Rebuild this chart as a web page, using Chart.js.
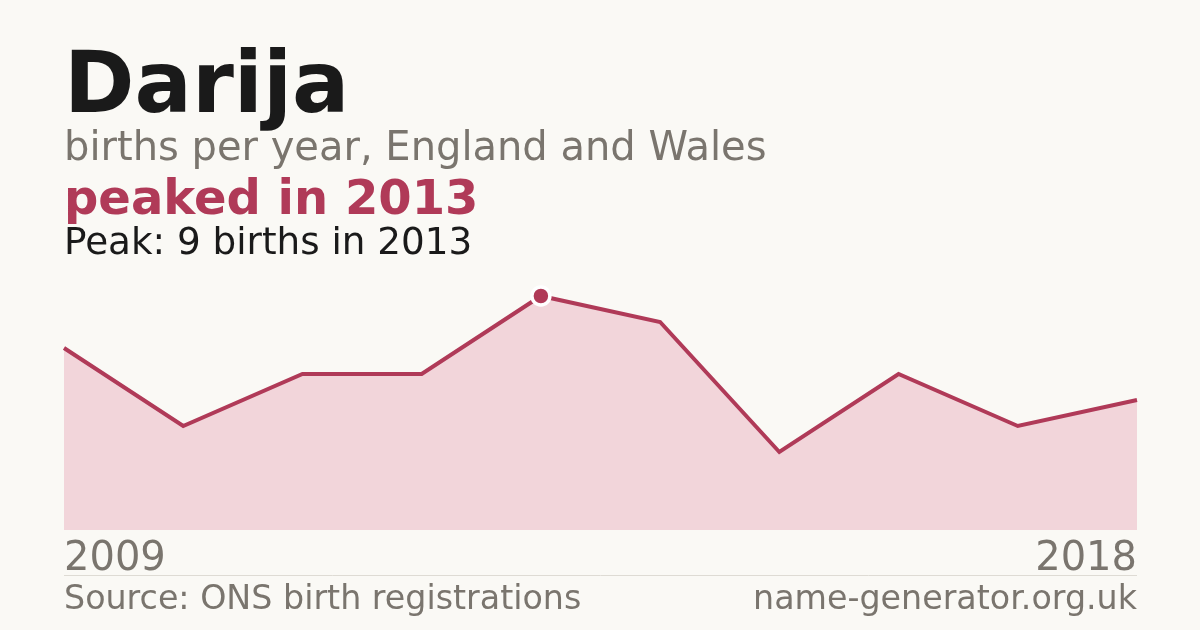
<!DOCTYPE html>
<html>
<head>
<meta charset="utf-8">
<script src="https://cdn.jsdelivr.net/npm/chart.js@4"></script>
<style>
  html, body { margin: 0; padding: 0; background: #faf9f5; }
  #wrap { width: 1200px; height: 630px; position: relative; }
</style>
</head>
<body>
<div id="wrap"><canvas id="nameChart" width="1200" height="630"></canvas></div>
<script>
// data
const years = ['2009', '2010', '2011', '2012', '2013', '2014', '2015', '2016', '2017', '2018'];
const births = [7, 4, 6, 6, 9, 8, 3, 6, 4, 5];
const axisLabels = ['2009', '2018'];

const FONT = '"DejaVu Sans", sans-serif';
const peakIdx = births.indexOf(Math.max(...births));

// headings, axis labels and footer drawn on the same canvas
const textPlugin = {
    id: 'texts',
    beforeDraw(chart) {
        const c = chart.ctx;
        c.save();
        c.fillStyle = '#faf9f5';
        c.fillRect(0, 0, chart.width, chart.height);
        c.textBaseline = 'alphabetic';
        c.textAlign = 'left';

        c.fillStyle = '#1a1a1a';
        c.font = 'bold 85px ' + FONT;
        c.fillText('Darija', 64, 112);

        c.fillStyle = '#7a756e';
        c.font = '40px ' + FONT;
        c.fillText('births per year, England and Wales', 64, 160);

        c.fillStyle = '#b03a58';
        c.font = 'bold 48px ' + FONT;
        c.fillText('peaked in ' + years[peakIdx], 64, 214);

        c.fillStyle = '#1a1a1a';
        c.font = '37.3px ' + FONT;
        c.fillText('Peak: ' + births[peakIdx] + ' births in ' + years[peakIdx], 64, 254);
        c.restore();
    },
    afterDraw(chart) {
        const c = chart.ctx;
        const area = chart.chartArea;
        c.save();
        c.fillStyle = '#7a756e';
        c.font = '40px ' + FONT;
        c.textAlign = 'left';
        c.fillText(axisLabels[0], area.left, 570);
        c.textAlign = 'right';
        c.fillText(axisLabels[1], area.right, 570);

        c.strokeStyle = '#dedbd4';
        c.lineWidth = 1;
        c.beginPath();
        c.moveTo(area.left, 575.5);
        c.lineTo(area.right, 575.5);
        c.stroke();

        c.font = '33.3px ' + FONT;
        c.textAlign = 'left';
        c.fillText('Source: ONS birth registrations', area.left, 609);
        c.textAlign = 'right';
        c.fillText('name-generator.org.uk', area.right, 609);
        c.restore();
    }
};

const ctx = document.getElementById('nameChart').getContext('2d');

new Chart(ctx, {
    type: 'line',
    data: {
        labels: years,
        datasets: [{
            data: births,
            borderColor: '#b03a58',
            borderWidth: 4,
            backgroundColor: '#f2d5da',
            fill: 'origin',
            tension: 0,
            pointRadius: births.map((v, i) => i === peakIdx ? 9 : 0),
            pointBackgroundColor: '#b03a58',
            pointBorderColor: '#ffffff',
            pointBorderWidth: 3.5,
            clip: false
        }]
    },
    options: {
        responsive: false,
        animation: false,
        devicePixelRatio: 1,
        layout: {
            padding: { left: 64, right: 63, top: 270, bottom: 100 }
        },
        plugins: {
            legend: { display: false },
            tooltip: { enabled: false }
        },
        scales: {
            x: { display: false, offset: false },
            y: { display: false, min: 0, max: 10 }
        }
    },
    plugins: [textPlugin]
});
</script>
</body>
</html>
